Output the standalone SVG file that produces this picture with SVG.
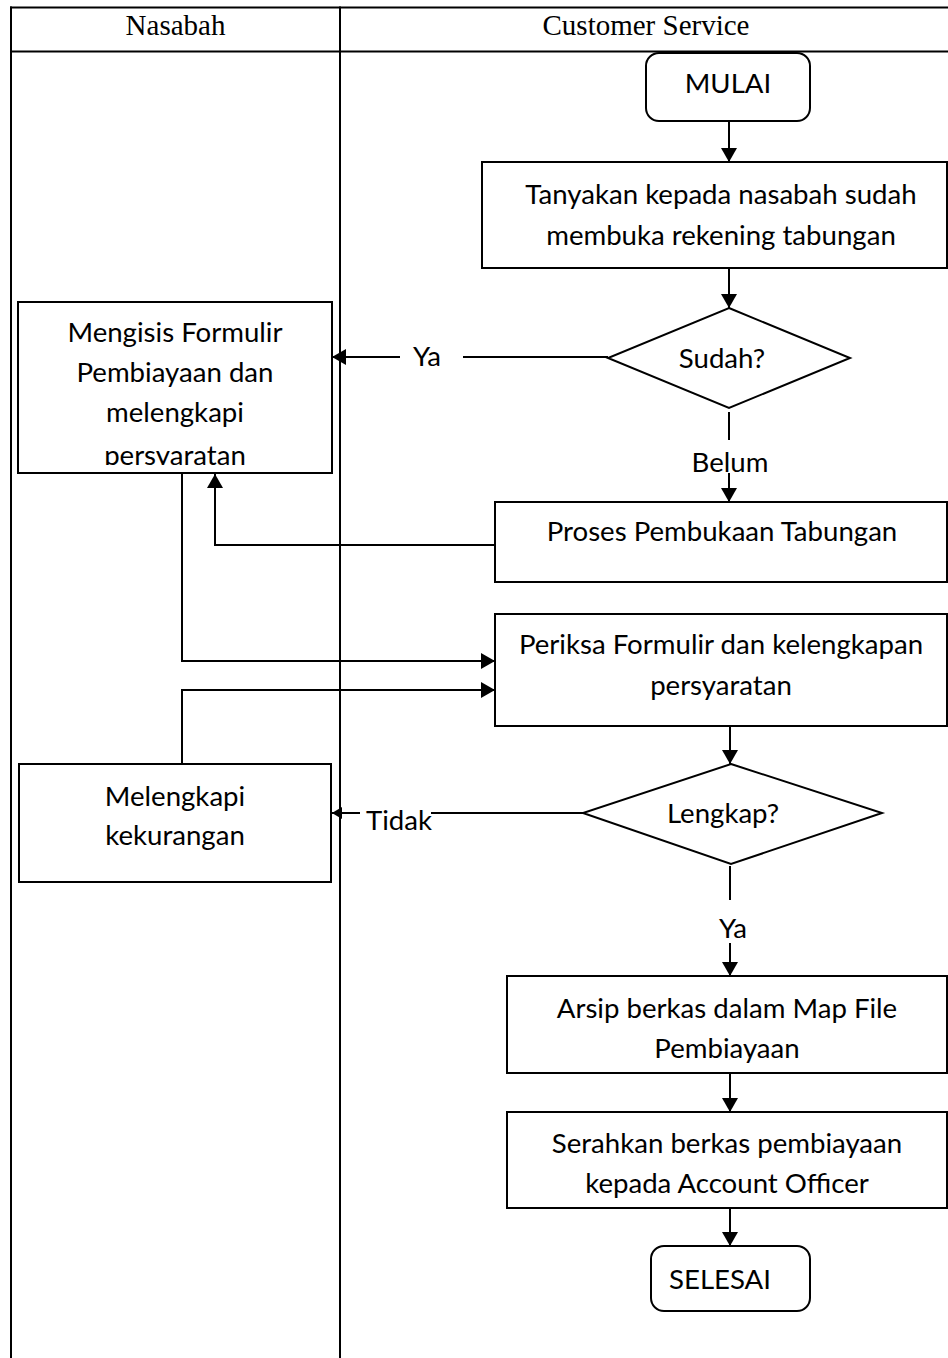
<svg xmlns="http://www.w3.org/2000/svg" width="948" height="1358" viewBox="0 0 948 1358">
  <style>
    .lane { stroke: #000; stroke-width: 2; fill: none; }
    .box { stroke: #000; stroke-width: 2; fill: #fff; }
    .line { stroke: #000; stroke-width: 2; fill: none; }
    .hdr { font-family: "Liberation Serif", "Times New Roman", serif; font-size: 29px; fill: #000; text-anchor: middle; }
    .t { font-family: Lato, "Noto Sans", sans-serif; font-size: 27.6px; fill: #000; text-anchor: middle; }
  </style>
  <defs>
    <marker id="arrow" viewBox="0 0 14 16" refX="14" refY="8" markerWidth="14" markerHeight="16" markerUnits="userSpaceOnUse" orient="auto">
      <path d="M0,0 L14,8 L0,16 z" fill="#000"/>
    </marker>
    <marker id="arrowSmall" viewBox="0 0 10 12" refX="10" refY="6" markerWidth="10" markerHeight="12" markerUnits="userSpaceOnUse" orient="auto">
      <path d="M0,0 L10,6 L0,12 z" fill="#000"/>
    </marker>
    <clipPath id="clipIsi">
      <rect x="19" y="303" width="312" height="162"/>
    </clipPath>
  </defs>

  <!-- swimlane frame -->
  <g id="lanes">
    <line class="lane" x1="10" y1="7.5" x2="948" y2="7.5"/>
    <line class="lane" x1="10" y1="51.5" x2="948" y2="51.5"/>
    <line class="lane" x1="11" y1="6.5" x2="11" y2="1358"/>
    <line class="lane" x1="340" y1="6.5" x2="340" y2="1358"/>
    <text class="hdr" x="175.5" y="35">Nasabah</text>
    <text class="hdr" x="646" y="35">Customer Service</text>
  </g>

  <!-- connectors -->
  <g id="connectors">
    <line class="line" x1="729" y1="121" x2="729" y2="162" marker-end="url(#arrow)"/>
    <line class="line" x1="729" y1="268" x2="729" y2="308" marker-end="url(#arrow)"/>
    <!-- Sudah? -> Ya -> form -->
    <line class="line" x1="608" y1="357" x2="463" y2="357"/>
    <line class="line" x1="400" y1="357" x2="332" y2="357" marker-end="url(#arrow)"/>
    <!-- Sudah? -> Belum -> Proses -->
    <line class="line" x1="729" y1="412" x2="729" y2="440"/>
    <line class="line" x1="729" y1="473" x2="729" y2="502" marker-end="url(#arrow)"/>
    <!-- Proses -> form -->
    <polyline class="line" points="495,545 215,545 215,474" marker-end="url(#arrow)"/>
    <!-- form -> Periksa -->
    <polyline class="line" points="182,474 182,661 495,661" marker-end="url(#arrow)"/>
    <!-- Melengkapi -> Periksa -->
    <polyline class="line" points="182,764 182,690 495,690" marker-end="url(#arrow)"/>
    <line class="line" x1="730" y1="726" x2="730" y2="764" marker-end="url(#arrow)"/>
    <!-- Lengkap? -> Tidak -> Melengkapi -->
    <line class="line" x1="583" y1="813" x2="431" y2="813"/>
    <line class="line" x1="360" y1="813" x2="332" y2="813" marker-end="url(#arrowSmall)"/>
    <!-- Lengkap? -> Ya -> Arsip -->
    <line class="line" x1="730" y1="866" x2="730" y2="900"/>
    <line class="line" x1="730" y1="943" x2="730" y2="976" marker-end="url(#arrow)"/>
    <line class="line" x1="730" y1="1073" x2="730" y2="1112" marker-end="url(#arrow)"/>
    <line class="line" x1="730" y1="1208" x2="730" y2="1246" marker-end="url(#arrow)"/>
    <text class="t" x="427" y="366">Ya</text>
    <text class="t" x="730" y="472">Belum</text>
    <text class="t" x="399" y="830">Tidak</text>
    <text class="t" x="733" y="938">Ya</text>
  </g>

  <g id="mulai">
    <rect class="box" x="646" y="53" width="164" height="68" rx="13" ry="13"/>
    <text class="t" x="728" y="93">MULAI</text>
  </g>

  <g id="tanyakan">
    <rect class="box" x="482" y="162" width="465" height="106"/>
    <text class="t" x="721" y="204">Tanyakan kepada nasabah sudah</text>
    <text class="t" x="721" y="245">membuka rekening tabungan</text>
  </g>

  <g id="sudah">
    <polygon class="box" points="729,308 850,358 729,408 608,358"/>
    <text class="t" x="722" y="368">Sudah?</text>
  </g>

  <g id="mengisi">
    <rect class="box" x="18" y="302" width="314" height="171"/>
    <g clip-path="url(#clipIsi)">
      <text class="t" x="175" y="342">Mengisis Formulir</text>
      <text class="t" x="175" y="382">Pembiayaan dan</text>
      <text class="t" x="175" y="422">melengkapi</text>
      <text class="t" x="175" y="465">persyaratan</text>
    </g>
  </g>

  <g id="proses">
    <rect class="box" x="495" y="502" width="452" height="80"/>
    <text class="t" x="722" y="541">Proses Pembukaan Tabungan</text>
  </g>

  <g id="periksa">
    <rect class="box" x="495" y="614" width="452" height="112"/>
    <text class="t" x="721" y="654">Periksa Formulir dan kelengkapan</text>
    <text class="t" x="721" y="695">persyaratan</text>
  </g>

  <g id="lengkap">
    <polygon class="box" points="731,764 882,813 731,864 583,813"/>
    <text class="t" x="723" y="823">Lengkap?</text>
  </g>

  <g id="melengkapi">
    <rect class="box" x="19" y="764" width="312" height="118"/>
    <text class="t" x="175" y="806">Melengkapi</text>
    <text class="t" x="175" y="845">kekurangan</text>
  </g>

  <g id="arsip">
    <rect class="box" x="507" y="976" width="440" height="97"/>
    <text class="t" x="727" y="1018">Arsip berkas dalam Map File</text>
    <text class="t" x="727" y="1058">Pembiayaan</text>
  </g>

  <g id="serahkan">
    <rect class="box" x="507" y="1112" width="440" height="96"/>
    <text class="t" x="727" y="1153">Serahkan berkas pembiayaan</text>
    <text class="t" x="727" y="1193">kepada Account Officer</text>
  </g>

  <g id="selesai">
    <rect class="box" x="651" y="1246" width="159" height="65" rx="13" ry="13"/>
    <text class="t" x="720" y="1289">SELESAI</text>
  </g>
</svg>
